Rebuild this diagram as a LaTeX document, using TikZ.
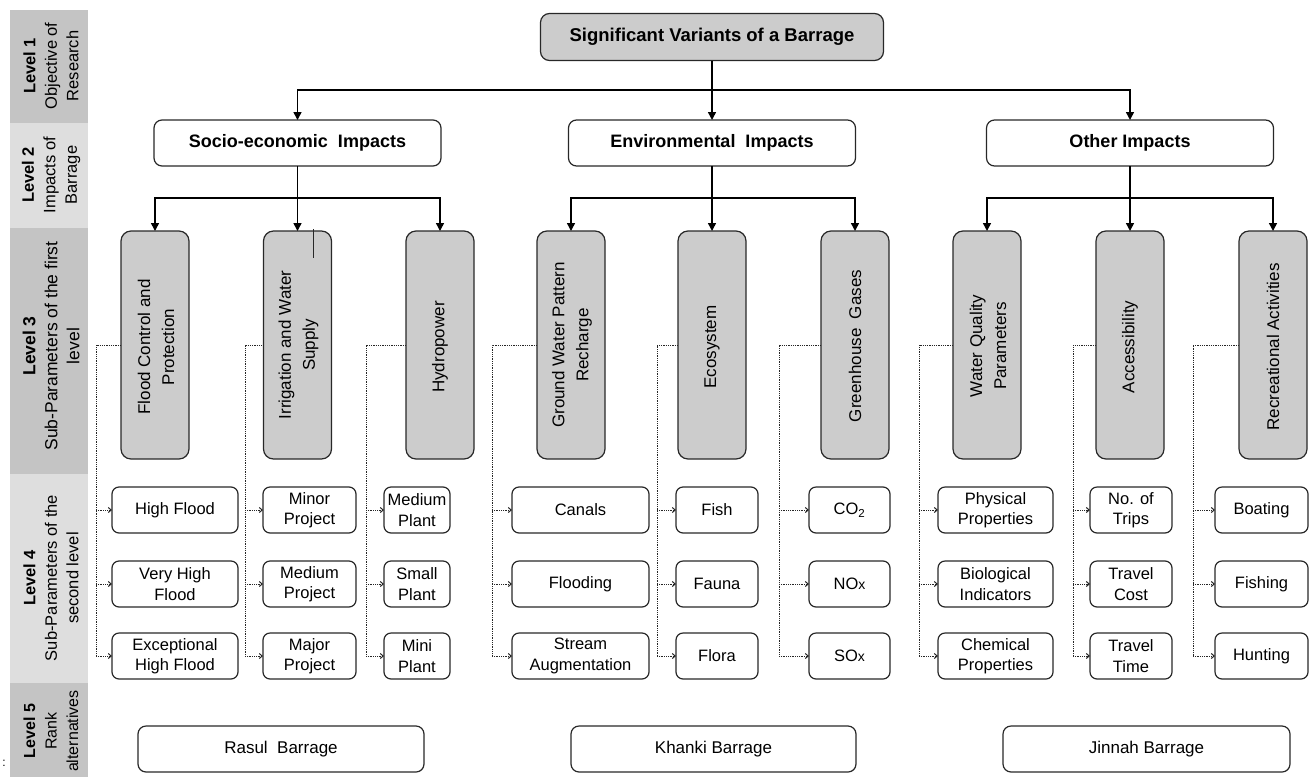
\documentclass[tikz,border=0pt]{standalone}
\usepackage{fontspec}
\setmainfont{Liberation Sans}
\usetikzlibrary{arrows.meta}
\definecolor{bandA}{RGB}{196,196,196}
\definecolor{bandB}{RGB}{222,222,222}
\definecolor{boxg}{RGB}{204,204,204}
\definecolor{edge}{RGB}{40,40,40}
\begin{document}
\begin{tikzpicture}[x=1pt,y=-1pt,
  every node/.style={inner sep=0pt,outer sep=0pt},
  bandtxt/.style={rotate=90,align=center,font=\fontsize{16.5}{21.5}\selectfont},
  topbox/.style={draw=edge,line width=1.2pt,rounded corners=9pt,fill=boxg,minimum width=343pt,minimum height=47pt,font=\fontsize{18.5}{21}\selectfont\bfseries},
  lvtwo/.style={draw=edge,line width=1.2pt,rounded corners=8pt,fill=white,minimum width=287pt,minimum height=46pt,font=\fontsize{18}{21}\selectfont\bfseries},
  lthree/.style={draw=edge,line width=1.2pt,rounded corners=10pt,fill=boxg,minimum width=68pt,minimum height=228pt},
  lthreetxt/.style={rotate=90,align=center,font=\fontsize{17}{24}\selectfont},
  lfour/.style={draw=edge,line width=1.2pt,rounded corners=7pt,fill=white,minimum height=46pt,align=center,font=\fontsize{16.5}{20.5}\selectfont},
  lfive/.style={draw=edge,line width=1.2pt,rounded corners=8pt,fill=white,minimum height=46pt,font=\fontsize{17}{20}\selectfont},
  conn/.style={draw=black,line width=1.5pt,-{Triangle[length=8pt,width=8pt]}},
  dotc/.style={draw=black!85,line width=1pt,dash pattern=on 1pt off 0.8pt},
  dotarr/.style={dotc,-{Straight Barb[length=3pt,width=5pt]}}
]
\useasboundingbox (0,0) rectangle (1309,777);
% left level bands
\fill[bandA] (10,10) rectangle (88,123);
\fill[bandB] (10,123) rectangle (88,228);
\fill[bandA] (10,228) rectangle (88,474);
\fill[bandB] (10,474) rectangle (88,683);
\fill[bandA] (10,683) rectangle (88,777);
\node[bandtxt] (bl1) at (51,66) {\textbf{Level 1}\\Objective of\\Research};
\node[bandtxt] (bl2) at (51,175) {\textbf{Level 2}\\Impacts of\\Barrage};
\node[bandtxt,font=\fontsize{17.5}{22}\selectfont] (bl3) at (51,346) {\textbf{Level 3}\\Sub-Parameters of the first\\level};
\node[bandtxt] (bl4) at (51,578) {\textbf{Level 4}\\Sub-Parameters of the\\second level};
\node[bandtxt,font=\fontsize{16}{21.5}\selectfont] (bl5) at (51,731) {\textbf{Level 5}\\Rank\\alternatives};
\node[font=\fontsize{12}{12}\selectfont] (colon) at (4,763) {:};
% level 1 and 2
\node[topbox] (top) at (712,37) {Significant Variants of a Barrage};
\node[lvtwo] (soc) at (297.5,143) {Socio-economic\ \ Impacts};
\node[lvtwo] (env) at (712,143) {Environmental\ \ Impacts};
\node[lvtwo] (oth) at (1130,143) {Other Impacts};
\coordinate (b0) at (712,90);
\draw[conn] (top.south) -- (env.north);
\draw[conn] (b0) -| (soc.north);
\draw[conn] (b0) -| (oth.north);
% level 3 boxes
\node[lthree] (fc) at (155,345) {};
\node[lthree] (ir) at (297.5,345) {};
\node[lthree] (hy) at (440,345) {};
\node[lthree] (gw) at (571,345) {};
\node[lthree] (ec) at (712,345) {};
\node[lthree] (gg) at (855,345) {};
\node[lthree] (wq) at (987,345) {};
\node[lthree] (ac) at (1130,345) {};
\node[lthree] (ra) at (1273,345) {};
\draw[edge,line width=0.8pt] (313,229) -- (313,258);
\node[lthreetxt] (fct) at (156,347) {Flood Control and\\Protection};
\node[lthreetxt] (irt) at (298.5,345) {Irrigation and Water\\Supply};
\node[lthreetxt] (hyt) at (440,347) {Hydropower};
\node[lthreetxt] (gwt) at (572,345) {Ground Water Pattern\\Recharge};
\node[lthreetxt] (ect) at (712,347) {Ecosystem};
\node[lthreetxt] (ggt) at (855,346) {Greenhouse\ \ Gases};
\node[lthreetxt] (wqt) at (988,346) {Water Quality\\Parameters};
\node[lthreetxt] (act) at (1130,347) {Accessibility};
\node[lthreetxt] (rat) at (1273,347) {Recreational Activities};
% level 2 -> level 3
\coordinate (bs) at (297.5,198);
\coordinate (be) at (712,198);
\coordinate (bo) at (1130,198);
\draw[conn] (soc.south) -- (ir.north);
\draw[conn] (bs) -| (fc.north);
\draw[conn] (bs) -| (hy.north);
\draw[conn] (env.south) -- (ec.north);
\draw[conn] (be) -| (gw.north);
\draw[conn] (be) -| (gg.north);
\draw[conn] (oth.south) -- (ac.north);
\draw[conn] (bo) -| (wq.north);
\draw[conn] (bo) -| (ra.north);
% level 4 boxes
\node[lfour,minimum width=126pt] (a1) at (175,510) {High Flood};
\node[lfour,minimum width=126pt] (a2) at (175,584) {Very High\\Flood};
\node[lfour,minimum width=126pt] (a3) at (175,656) {Exceptional\\High Flood};
\node[lfour,minimum width=93pt] (b1) at (309.5,510) {Minor\\Project};
\node[lfour,minimum width=93pt] (b2) at (309.5,584) {Medium\\Project};
\node[lfour,minimum width=93pt] (b3) at (309.5,656) {Major\\Project};
\node[lfour,minimum width=66pt] (c1) at (417,510) {Medium\\Plant};
\node[lfour,minimum width=66pt] (c2) at (417,584) {Small\\Plant};
\node[lfour,minimum width=66pt] (c3) at (417,656) {Mini\\Plant};
\node[lfour,minimum width=137pt] (d1) at (580.5,510) {Canals};
\node[lfour,minimum width=137pt] (d2) at (580.5,584) {Flooding};
\node[lfour,minimum width=137pt] (d3) at (580.5,656) {Stream\\Augmentation};
\node[lfour,minimum width=82pt] (e1) at (717,510) {Fish};
\node[lfour,minimum width=82pt] (e2) at (717,584) {Fauna};
\node[lfour,minimum width=82pt] (e3) at (717,656) {Flora};
\node[lfour,minimum width=81pt] (f1) at (849.5,510) {CO\textsubscript{2}};
\node[lfour,minimum width=81pt] (f2) at (849.5,584) {NO{\fontsize{14}{14}\selectfont x}};
\node[lfour,minimum width=81pt] (f3) at (849.5,656) {SO{\fontsize{14}{14}\selectfont x}};
\node[lfour,minimum width=115pt] (g1) at (995.5,510) {Physical\\Properties};
\node[lfour,minimum width=115pt] (g2) at (995.5,584) {Biological\\Indicators};
\node[lfour,minimum width=115pt] (g3) at (995.5,656) {Chemical\\Properties};
\node[lfour,minimum width=82pt] (h1) at (1131,510) {No. of\\Trips};
\node[lfour,minimum width=82pt] (h2) at (1131,584) {Travel\\Cost};
\node[lfour,minimum width=82pt] (h3) at (1131,656) {Travel\\Time};
\node[lfour,minimum width=93pt] (i1) at (1261.5,510) {Boating};
\node[lfour,minimum width=93pt] (i2) at (1261.5,584) {Fishing};
\node[lfour,minimum width=93pt] (i3) at (1261.5,656) {Hunting};
% dotted connectors level 3 -> level 4
\foreach \p/\v/\q in {fc/96/a, ir/245/b, hy/366/c, gw/492/d, ec/657/e, gg/779/f, wq/919/g, ac/1073/h, ra/1193/i}{
  \coordinate (\p-v) at (\v,345);
  \draw[dotc] (\p.west) -- (\p-v) -- (\p-v |- \q3.west);
  \foreach \r in {1,2,3}{
    \draw[dotarr] (\p-v |- \q\r.west) -- (\q\r.west);
  }
}
% level 5
\node[lfive,minimum width=286pt] (rasul) at (281,749) {Rasul\ \ Barrage};
\node[lfive,minimum width=285pt] (khanki) at (713.5,749) {Khanki Barrage};
\node[lfive,minimum width=287pt] (jinnah) at (1146.5,749) {Jinnah Barrage};
\end{tikzpicture}
\end{document}
